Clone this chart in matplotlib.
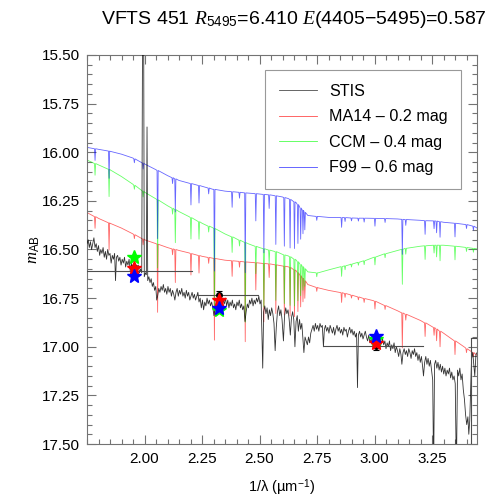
import matplotlib
matplotlib.use('Agg')
import matplotlib.pyplot as plt
import numpy as np

plt.rcParams['font.family'] = ['Liberation Sans', 'DejaVu Sans']
plt.rcParams['mathtext.fontset'] = 'custom'
plt.rcParams['mathtext.rm'] = 'Liberation Sans'
plt.rcParams['mathtext.sf'] = 'Liberation Sans'
plt.rcParams['mathtext.it'] = 'Liberation Serif:italic'

# ---------------- data ----------------
stis_points = [
    (1.750, 16.47), (1.755, 16.45), (1.760, 16.49), (1.765, 16.46), (1.770, 16.50), (1.775, 16.47),
    (1.780, 16.44), (1.785, 16.49), (1.790, 16.47), (1.795, 16.51), (1.800, 16.48), (1.805, 16.53),
    (1.810, 16.50), (1.815, 16.52), (1.820, 16.49), (1.825, 16.54), (1.830, 16.51), (1.835, 16.55),
    (1.840, 16.50), (1.845, 16.53), (1.850, 16.52), (1.855, 16.57), (1.860, 16.53), (1.865, 16.55),
    (1.870, 16.52), (1.874, 16.66), (1.878, 16.54), (1.883, 16.53), (1.888, 16.56), (1.893, 16.54),
    (1.898, 16.58), (1.903, 16.55), (1.908, 16.57), (1.913, 16.54), (1.918, 16.59), (1.923, 16.56),
    (1.928, 16.58), (1.933, 16.55), (1.938, 16.61), (1.943, 16.57), (1.948, 16.60), (1.953, 16.58),
    (1.958, 16.62), (1.963, 16.59), (1.968, 16.61), (1.973, 16.58), (1.978, 16.62), (1.983, 16.60),
    (1.988, 16.62), (1.992, 15.20), (1.996, 15.20), (1.999, 16.64), (2.004, 16.62), (2.008, 16.63),
    (2.011, 15.87), (2.014, 16.66), (2.019, 16.64), (2.024, 16.67), (2.029, 16.65), (2.034, 16.69),
    (2.039, 16.67), (2.044, 16.71), (2.049, 16.69), (2.053, 16.76), (2.057, 16.74), (2.062, 16.70),
    (2.067, 16.72), (2.072, 16.69), (2.077, 16.71), (2.082, 16.68), (2.087, 16.72), (2.092, 16.70),
    (2.097, 16.73), (2.102, 16.69), (2.107, 16.72), (2.112, 16.70), (2.117, 16.74), (2.122, 16.71),
    (2.127, 16.73), (2.132, 16.76), (2.137, 16.72), (2.142, 16.70), (2.147, 16.74), (2.152, 16.71),
    (2.157, 16.73), (2.162, 16.70), (2.167, 16.74), (2.172, 16.72), (2.177, 16.75), (2.182, 16.71),
    (2.187, 16.74), (2.192, 16.72), (2.197, 16.76), (2.202, 16.74), (2.207, 16.72), (2.212, 16.75),
    (2.217, 16.73), (2.222, 16.76), (2.227, 16.74), (2.232, 16.72), (2.237, 16.77), (2.242, 16.75),
    (2.247, 16.80), (2.252, 16.76), (2.257, 16.81), (2.262, 16.77), (2.267, 16.79), (2.272, 16.75),
    (2.277, 16.78), (2.282, 16.76), (2.287, 16.79), (2.292, 16.77), (2.297, 16.80), (2.302, 16.84),
    (2.307, 16.80), (2.312, 16.77), (2.317, 16.79), (2.322, 16.76), (2.327, 16.78), (2.332, 16.75),
    (2.337, 16.79), (2.342, 16.76), (2.347, 16.78), (2.352, 16.75), (2.357, 16.79), (2.362, 16.76),
    (2.367, 16.80), (2.372, 16.77), (2.377, 16.79), (2.382, 16.76), (2.387, 16.80), (2.392, 16.78),
    (2.397, 16.81), (2.402, 16.77), (2.407, 16.79), (2.412, 16.76), (2.417, 16.80), (2.422, 16.78),
    (2.427, 16.81), (2.432, 16.79), (2.437, 16.87), (2.442, 16.82), (2.447, 16.78), (2.452, 16.80),
    (2.457, 16.76), (2.462, 16.78), (2.467, 16.75), (2.472, 16.79), (2.477, 16.76), (2.482, 16.78),
    (2.487, 16.75), (2.492, 16.77), (2.497, 16.74), (2.502, 16.78), (2.507, 16.76), (2.514, 17.11),
    (2.518, 16.82), (2.523, 16.79), (2.528, 16.83), (2.533, 16.80), (2.538, 16.86), (2.543, 16.81),
    (2.548, 16.84), (2.553, 16.80), (2.558, 16.83), (2.563, 16.88), (2.568, 17.02), (2.573, 16.90),
    (2.578, 16.82), (2.583, 16.79), (2.588, 16.84), (2.593, 16.81), (2.598, 16.86), (2.604, 16.97),
    (2.609, 16.84), (2.614, 16.80), (2.619, 16.83), (2.624, 16.81), (2.629, 16.86), (2.634, 16.94),
    (2.639, 16.85), (2.644, 16.82), (2.649, 16.86), (2.654, 17.00), (2.659, 16.87), (2.664, 16.84),
    (2.669, 16.92), (2.674, 16.86), (2.679, 16.91), (2.684, 16.88), (2.689, 16.96), (2.693, 17.03),
    (2.698, 16.95), (2.703, 16.97), (2.708, 16.99), (2.713, 16.95), (2.718, 16.98), (2.723, 16.93),
    (2.728, 16.91), (2.733, 16.89), (2.738, 16.92), (2.743, 16.88), (2.748, 16.91), (2.753, 16.89),
    (2.758, 16.92), (2.763, 16.88), (2.768, 16.90), (2.773, 16.89), (2.778, 17.00), (2.782, 16.91),
    (2.787, 16.89), (2.792, 16.92), (2.797, 16.90), (2.802, 16.93), (2.807, 16.89), (2.812, 16.91),
    (2.817, 16.93), (2.822, 16.90), (2.827, 16.94), (2.832, 16.91), (2.837, 16.89), (2.842, 16.92),
    (2.847, 16.90), (2.852, 16.93), (2.857, 16.91), (2.862, 16.94), (2.867, 16.90), (2.872, 16.92),
    (2.877, 16.91), (2.882, 16.95), (2.887, 16.92), (2.892, 16.90), (2.897, 16.93), (2.902, 16.91),
    (2.907, 16.94), (2.912, 16.92), (2.917, 16.95), (2.922, 16.93), (2.926, 17.21), (2.930, 16.94),
    (2.935, 16.92), (2.940, 16.95), (2.945, 16.93), (2.950, 16.96), (2.955, 16.94), (2.960, 16.92),
    (2.965, 16.95), (2.970, 16.97), (2.975, 16.94), (2.980, 16.98), (2.985, 16.96), (2.990, 16.99),
    (2.995, 16.97), (3.000, 17.00), (3.005, 16.98), (3.010, 16.96), (3.015, 16.99), (3.020, 16.97),
    (3.025, 17.00), (3.030, 16.98), (3.035, 16.96), (3.040, 16.99), (3.045, 16.97), (3.050, 17.01),
    (3.055, 16.98), (3.060, 17.00), (3.065, 16.97), (3.070, 17.02), (3.075, 16.99), (3.080, 17.01),
    (3.085, 16.98), (3.090, 17.03), (3.095, 17.00), (3.100, 17.02), (3.105, 17.05), (3.110, 17.01),
    (3.115, 17.04), (3.119, 17.09), (3.124, 17.03), (3.129, 17.01), (3.134, 17.04), (3.139, 17.02),
    (3.144, 17.05), (3.149, 17.01), (3.154, 17.03), (3.159, 17.06), (3.164, 17.02), (3.169, 17.04),
    (3.174, 17.01), (3.179, 17.05), (3.184, 17.03), (3.189, 17.07), (3.194, 17.04), (3.199, 17.08),
    (3.204, 17.05), (3.209, 17.10), (3.213, 17.15), (3.218, 17.08), (3.223, 17.05), (3.228, 17.09),
    (3.233, 17.06), (3.238, 17.10), (3.243, 17.07), (3.248, 17.12), (3.253, 17.17), (3.257, 17.65),
    (3.261, 17.09), (3.266, 17.07), (3.271, 17.11), (3.276, 17.08), (3.281, 17.12), (3.286, 17.09),
    (3.291, 17.13), (3.296, 17.10), (3.301, 17.14), (3.306, 17.11), (3.311, 17.15), (3.316, 17.12),
    (3.321, 17.14), (3.326, 17.11), (3.331, 17.16), (3.336, 17.13), (3.341, 17.17), (3.346, 17.15),
    (3.351, 17.19), (3.356, 17.65), (3.361, 17.12), (3.366, 17.15), (3.371, 17.11), (3.376, 17.17),
    (3.381, 17.14), (3.386, 17.22), (3.391, 17.27), (3.396, 17.35), (3.401, 17.40), (3.406, 17.36),
    (3.410, 17.45), (3.414, 17.38), (3.418, 17.22), (3.422, 17.06), (3.427, 17.03), (3.432, 17.10),
    (3.436, 17.15), (3.441, 17.04), (3.446, 17.03),
]

# model continua (knots)
f99_cont_x = [1.75, 1.80, 1.85, 1.90, 1.95, 2.00, 2.05, 2.10, 2.15, 2.195, 2.25, 2.295, 2.35, 2.40,
              2.45, 2.50, 2.55, 2.60, 2.625, 2.66, 2.685, 2.71, 2.755, 2.80, 2.895, 2.995, 3.10,
              3.20, 3.30, 3.395, 3.446]
f99_cont_y = [15.975, 15.985, 15.995, 16.01, 16.03, 16.06, 16.09, 16.12, 16.145, 16.16, 16.175, 16.19,
              16.20, 16.205, 16.21, 16.215, 16.22, 16.23, 16.238, 16.26, 16.295, 16.325, 16.33, 16.335,
              16.338, 16.34, 16.343, 16.35, 16.36, 16.372, 16.39]
ccm_cont_x = f99_cont_x
ccm_cont_y = [16.04, 16.065, 16.09, 16.125, 16.165, 16.205, 16.24, 16.275, 16.305, 16.332, 16.365,
              16.387, 16.42, 16.445, 16.47, 16.49, 16.505, 16.525, 16.533, 16.555, 16.585, 16.615, 16.62,
              16.605, 16.577, 16.541, 16.505, 16.483, 16.478, 16.489, 16.497]
ma14_cont_x = f99_cont_x
ma14_cont_y = [16.31, 16.34, 16.365, 16.39, 16.42, 16.45, 16.47, 16.49, 16.505, 16.518, 16.535,
               16.544, 16.555, 16.56, 16.565, 16.57, 16.575, 16.585, 16.589, 16.61, 16.645, 16.68, 16.697,
               16.71, 16.733, 16.763, 16.815, 16.865, 16.93, 17.005, 17.045]

# absorption lines: positions (1/um), depths (mag), continuum level at each line per model
line_x = [1.785, 1.846, 1.956, 1.994, 2.057, 2.122, 2.134, 2.202, 2.237, 2.279, 2.304, 2.381, 2.413,
          2.438, 2.484, 2.519, 2.542, 2.571, 2.608, 2.633, 2.652, 2.667, 2.679, 2.689, 2.697,
          2.749, 2.857, 2.872, 2.900, 2.930, 2.955, 3.002, 3.046, 3.121, 3.136, 3.220, 3.259, 3.270,
          3.285, 3.350, 3.400, 3.430]
line_depth = [0.06, 0.14, 0.02, 0.03, 0.35, 0.03, 0.17, 0.11, 0.09, 0.03, 0.42, 0.08, 0.03,
              0.41, 0.14, 0.30, 0.07, 0.25, 0.25, 0.25, 0.24, 0.20, 0.16, 0.12, 0.09,
              0.02, 0.05, 0.02, 0.015, 0.015, 0.02, 0.04, 0.02, 0.18, 0.03, 0.07, 0.04, 0.06,
              0.08, 0.07, 0.02, 0.02]
f99_line_top = [15.982, 15.994, 16.034, 16.056, 16.094, 16.131, 16.137, 16.161, 16.171, 16.184, 16.191,
                16.203, 16.206, 16.209, 16.213, 16.217, 16.219, 16.224, 16.233, 16.242, 16.255, 16.269,
                16.287, 16.299, 16.309, 16.33, 16.336, 16.336, 16.338, 16.339, 16.339, 16.34, 16.341,
                16.345, 16.346, 16.352, 16.353, 16.354, 16.357, 16.365, 16.372, 16.38]
ccm_line_top = [16.058, 16.088, 16.17, 16.20, 16.245, 16.288, 16.295, 16.336, 16.357, 16.38, 16.392,
                16.435, 16.452, 16.464, 16.484, 16.496, 16.503, 16.511, 16.528, 16.537, 16.55, 16.563,
                16.577, 16.589, 16.599, 16.62, 16.588, 16.584, 16.575, 16.566, 16.558, 16.539, 16.522,
                16.499, 16.494, 16.481, 16.478, 16.478, 16.478, 16.483, 16.49, 16.494]
ma14_line_top = [16.331, 16.363, 16.424, 16.446, 16.473, 16.497, 16.50, 16.521, 16.531, 16.541, 16.546,
                 16.558, 16.561, 16.564, 16.568, 16.572, 16.574, 16.579, 16.586, 16.592, 16.605, 16.619,
                 16.635, 16.649, 16.661, 16.695, 16.722, 16.726, 16.735, 16.744, 16.752, 16.766, 16.788,
                 16.826, 16.833, 16.877, 16.901, 16.909, 16.92, 16.97, 17.01, 17.03]

# photometry
phot_x = [1.956, 2.324, 3.006]
phot_obs = [16.61, 16.733, 16.998]
phot_err = [0.03, 0.02, 0.02]
phot_xlo = [1.706, 2.227, 2.778]
phot_xhi = [2.206, 2.495, 3.212]
phot_ma14 = [16.597, 16.76, 16.979]
phot_ccm = [16.537, 16.81, 16.962]
phot_f99 = [16.636, 16.80, 16.945]
uv_bar_x = 3.42
uv_bar_y = 16.953

labels = ['STIS', 'MA14 \u2013 0.2 mag', 'CCM \u2013 0.4 mag', 'F99 \u2013 0.6 mag']


def model_series(cx, cy, tops, w=0.0025):
    pts = list(zip(cx, cy))
    for x, t, d in zip(line_x, tops, line_depth):
        pts += [(x - w, t), (x, t + d), (x + w, t)]
    pts.sort()
    a = np.array(pts)
    return a[:, 0], a[:, 1]


fig = plt.figure(figsize=(4.98, 4.98), dpi=100)
ax = fig.add_axes([0.1747, 0.1084, 0.7833, 0.7812])

sx = [p[0] for p in stis_points]
sy = [p[1] for p in stis_points]
l0, = ax.plot(sx, sy, color='black', lw=0.6, alpha=0.8, zorder=3)

mx, my = model_series(ma14_cont_x, ma14_cont_y, ma14_line_top)
l1, = ax.plot(mx, my, color='red', lw=0.6, alpha=0.6, zorder=2)
cx_, cy_ = model_series(ccm_cont_x, ccm_cont_y, ccm_line_top)
l2, = ax.plot(cx_, cy_, color='lime', lw=0.6, alpha=0.6, zorder=2)
fx, fy = model_series(f99_cont_x, f99_cont_y, f99_line_top)
l3, = ax.plot(fx, fy, color='blue', lw=0.6, alpha=0.6, zorder=2)

# filter bars
barcol = '0.3'
for x, y, lo, hi in zip(phot_x, phot_obs, phot_xlo, phot_xhi):
    ax.plot([lo, hi], [y, y], color=barcol, lw=0.8, zorder=4)
ax.plot([uv_bar_x, 3.6], [uv_bar_y, uv_bar_y], color=barcol, lw=0.8, zorder=4)
ax.plot([uv_bar_x, uv_bar_x], [uv_bar_y, 17.7], color=barcol, lw=0.8, zorder=4)

ax.errorbar(phot_x, phot_obs, yerr=phot_err, fmt='o', color='black', ms=4,
            capsize=2, elinewidth=0.8, capthick=0.8, zorder=5)
ax.plot(phot_x, phot_ccm, '*', color='lime', ms=10.5, mec='lime', zorder=6)
ax.plot(phot_x, phot_ma14, '*', color='red', ms=10.5, mec='red', zorder=7)
ax.plot(phot_x, phot_f99, '*', color='blue', ms=10.5, mec='blue', zorder=8)

ax.set_xlim(1.75, 3.446)
ax.set_ylim(17.5, 15.5)
ax.set_xticks([2.0, 2.25, 2.5, 2.75, 3.0, 3.25])
ax.set_xticklabels(['2.00', '2.25', '2.50', '2.75', '3.00', '3.25'])
ax.set_xticks(np.arange(1.75, 3.45, 0.05), minor=True)
ax.set_yticks([15.5, 15.75, 16.0, 16.25, 16.5, 16.75, 17.0, 17.25, 17.5])
ax.set_yticklabels(['15.50', '15.75', '16.00', '16.25', '16.50', '16.75', '17.00', '17.25', '17.50'])
ax.set_yticks(np.arange(15.5, 17.51, 0.05), minor=True)

spc = '0.45'
for s in ax.spines.values():
    s.set_color(spc)
    s.set_linewidth(0.8)
ax.tick_params(which='both', direction='in', top=True, right=True, color=spc, width=0.8,
               labelsize=11, labelcolor='black')
ax.tick_params(which='major', length=6.5)
ax.tick_params(which='minor', length=3.5)
ax.tick_params(axis='x', pad=6)
ax.tick_params(axis='y', pad=5)

ax.set_xlabel('1/\u03bb (\u00b5m$^{-1}$)', fontsize=10.5, labelpad=8)
ax.set_ylabel(r'$m_{\rm AB}$', fontsize=12)
ax.yaxis.set_label_coords(-0.115, 0.5)

fig.text(0.978, 0.960, r'VFTS 451 $R_{5495}$=6.410 $E$(4405$-$5495)=0.587',
         ha='right', va='center', fontsize=14)

leg = ax.legend([l0, l1, l2, l3], labels, loc='upper right', bbox_to_anchor=(0.959, 0.961),
                fontsize=11.6, frameon=True, fancybox=False, handlelength=2.4,
                handletextpad=0.7, borderpad=0.85, labelspacing=0.65, borderaxespad=0)
leg.get_frame().set_edgecolor('0.5')
leg.get_frame().set_linewidth(0.8)
for h in leg.get_lines():
    h.set_alpha(0.7)

fig.savefig('out.png', dpi=100)
